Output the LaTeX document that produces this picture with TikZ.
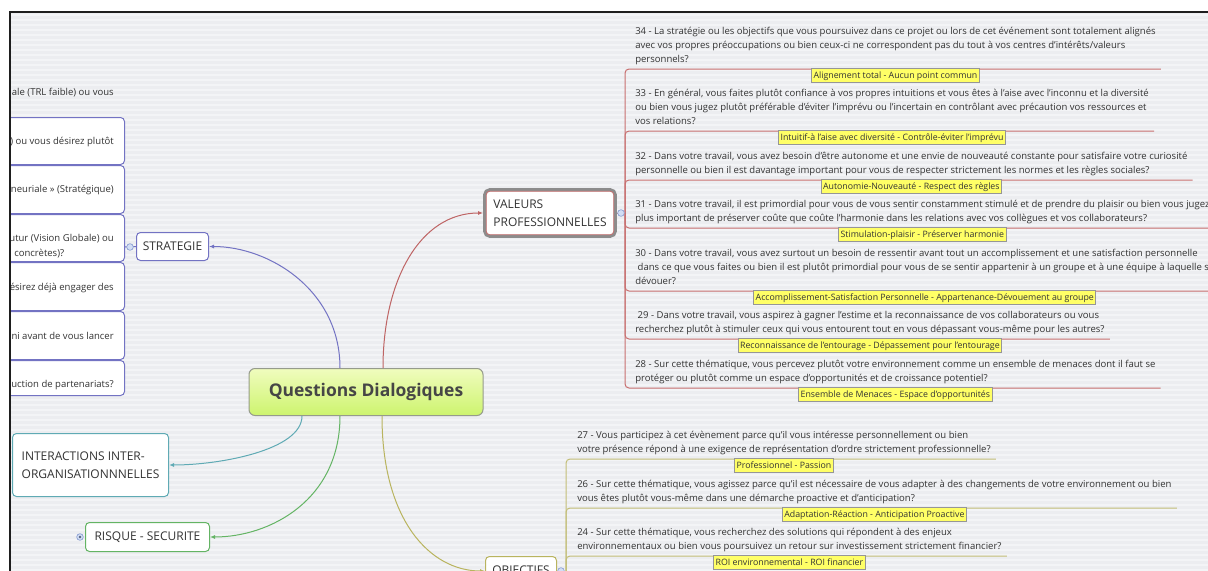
\documentclass[tikz,border=0pt]{standalone}
\usepackage{fontspec}
\setmainfont{Open Sans}
\usetikzlibrary{arrows.meta}
\definecolor{bgc}{RGB}{236,237,240}
\definecolor{stripec}{RGB}{243,244,246}
\definecolor{txt}{RGB}{51,51,51}
\definecolor{vred}{RGB}{200,112,112}
\definecolor{oliv}{RGB}{195,190,120}
\definecolor{cblue}{RGB}{115,115,195}
\definecolor{cred}{RGB}{190,100,100}
\definecolor{cteal}{RGB}{95,170,180}
\definecolor{cgreen}{RGB}{100,180,100}
\definecolor{colive}{RGB}{185,180,95}
\definecolor{lblfill}{RGB}{255,255,102}
\definecolor{lblbord}{RGB}{150,150,150}
\definecolor{rootT}{RGB}{240,252,190}
\definecolor{rootB}{RGB}{205,244,110}
\definecolor{rootbord}{RGB}{150,155,140}
\definecolor{roottxt}{RGB}{70,70,70}
\definecolor{vpgray}{RGB}{140,140,140}
\definecolor{cfill}{RGB}{210,222,245}
\definecolor{cbord}{RGB}{140,160,210}
\definecolor{framec}{RGB}{30,30,30}
\newcommand\mybody{\fontsize{7.15}{10.5}\selectfont}
\newcommand\mylbl{\fontsize{6.6}{9}\selectfont}
\newcommand\mybranch{\fontsize{9}{13.5}\selectfont}
\begin{document}
\begin{tikzpicture}[x=0.75pt,y=-0.75pt,
  topic/.style={font=\mybody, text=txt, align=left, inner xsep=3.75pt, inner ysep=1.35pt, anchor=south west},
  lbl/.style={font=\mylbl, text=txt, fill=lblfill, draw=lblbord, line width=0.75pt, inner xsep=1.5pt, inner ysep=1.2pt, text height=6.2pt, text depth=1.9pt, anchor=north},
  vline/.style={draw=vred, line width=0.75pt, rounded corners=3pt},
  oline/.style={draw=oliv, line width=0.75pt, rounded corners=3pt},
  branch/.style={fill=white, rounded corners=3pt, line width=0.75pt, font=\mybranch, text=txt, align=left},
  conn/.style={line width=0.75pt, -{Latex[length=3.75pt,width=3pt]}},
  collapse/.style={circle, draw=cbord, fill=cfill, inner sep=0pt, minimum size=5pt, line width=0.5pt},
  sbox/.style={draw=cblue, fill=white, rounded corners=3pt, line width=0.75pt, minimum width=180pt, anchor=east},
  frag/.style={font=\mybody, text=txt, inner sep=0pt},
  rootbox/.style={draw=rootbord, line width=0.75pt, rounded corners=4.5pt, top color=rootT, bottom color=rootB, minimum width=175.5pt, minimum height=35.25pt, font=\fontsize{13.1}{15}\selectfont\bfseries, text=roottxt}
]
\useasboundingbox (0,0) rectangle (1208,571);
\fill[white] (0,0) rectangle (1208,571);
\begin{scope}
\clip (10,12) rectangle (1208,571);
\fill[bgc] (10,12) rectangle (1208,571);
\foreach \yy in {15,20,...,570} {\draw[stripec, line width=1.5pt] (10,\yy) -- (1208,\yy);}

% ---------- central node
\node[rootbox] (root) at (366,392) {Questions Dialogiques};

% ---------- VALEURS PROFESSIONNELLES
\node[branch, draw=vpgray, line width=2.4pt, rounded corners=4pt, minimum width=98pt, minimum height=35pt] (vp) at (550,213) {VALEURS\\PROFESSIONNELLES};
\draw[vred, line width=0.6pt, rounded corners=2.5pt] ([xshift=2.4pt,yshift=-2.4pt]vp.north west) rectangle ([xshift=-2.4pt,yshift=2.4pt]vp.south east);
\coordinate (vspine) at (625,213);

\node[topic] (t34) at (630,69) {34 - La stratégie ou les objectifs que vous poursuivez dans ce projet ou lors de cet événement sont totalement alignés\\avec vos propres préoccupations ou bien ceux-ci ne correspondent pas du tout à vos centres d’intérêts/valeurs\\personnels?\strut};
\node[topic] (t33) at (630,131) {33 - En général, vous faites plutôt confiance à vos propres intuitions et vous êtes à l’aise avec l’inconnu et la diversité\\ou bien vous jugez plutôt préférable d’éviter l’imprévu ou l’incertain en contrôlant avec précaution vos ressources et\\vos relations?\strut};
\node[topic] (t32) at (630,180) {32 - Dans votre travail, vous avez besoin d’être autonome et une envie de nouveauté constante pour satisfaire votre curiosité\\personnelle ou bien il est davantage important pour vous de respecter strictement les normes et les règles sociales?\strut};
\node[topic] (t31) at (630,228) {31 - Dans votre travail, il est primordial pour vous de vous sentir constamment stimulé et de prendre du plaisir ou bien vous jugez\\plus important de préserver coûte que coûte l’harmonie dans les relations avec vos collègues et vos collaborateurs?\strut};
\node[topic] (t30) at (630,291) {30 - Dans votre travail, vous avez surtout un besoin de ressentir avant tout un accomplissement et une satisfaction personnelle\\\ dans ce que vous faites ou bien il est plutôt primordial pour vous de se sentir appartenir à un groupe et à une équipe à laquelle se\\dévouer?\strut};
\node[topic] (t29) at (630,339) {\ 29 - Dans votre travail, vous aspirez à gagner l’estime et la reconnaissance de vos collaborateurs ou vous\\recherchez plutôt à stimuler ceux qui vous entourent tout en vous dépassant vous-même pour les autres?\strut};
\node[topic] (t28) at (630,388) {28 - Sur cette thématique, vous percevez plutôt votre environnement comme un ensemble de menaces dont il faut se\\protéger ou plutôt comme un espace d’opportunités et de croissance potentiel?\strut};

\draw[vline] (vp.east) -- (vspine);
\foreach \t in {t34,t33,t32,t31,t30,t29,t28} {\draw[vline] (vspine) |- (\t.south east);}

\node[lbl] (l34) at ([yshift=0.75pt]t34.south) {Alignement total - Aucun point commun};
\node[lbl] (l33) at ([yshift=0.75pt]t33.south) {Intuitif-à l’aise avec diversité - Contrôle-éviter l’imprévu};
\node[lbl] (l32) at ([yshift=0.75pt]t32.south) {Autonomie-Nouveauté - Respect des règles};
\node[lbl] (l31) at ([yshift=0.75pt]t31.south) {Stimulation-plaisir - Préserver harmonie};
\node[lbl] (l30) at ([yshift=0.75pt]t30.south) {Accomplissement-Satisfaction Personnelle - Appartenance-Dévouement au groupe};
\node[lbl] (l29) at ([yshift=0.75pt]t29.south) {Reconnaissance de l’entourage - Dépassement pour l’entourage};
\node[lbl] (l28) at ([yshift=0.75pt]t28.south) {Ensemble de Menaces - Espace d’opportunités};
\node[collapse] (vpc) at (621,213) {};

% ---------- OBJECTIFS
\node[branch, draw=colive, minimum width=53.25pt, minimum height=21.75pt] (ob) at (521,571) {OBJECTIFS};
\coordinate (ospine) at (566,571);
\coordinate (obot) at (566,600);
\node[topic] (t27) at (572,459) {27 - Vous participez à cet évènement parce qu’il vous intéresse personnellement ou bien\\votre présence répond à une exigence de représentation d’ordre strictement professionnelle?\strut};
\node[topic] (t26) at (572,508) {26 - Sur cette thématique, vous agissez parce qu’il est nécessaire de vous adapter à des changements de votre environnement ou bien\\vous êtes plutôt vous-même dans une démarche proactive et d’anticipation?\strut};
\node[topic] (t24) at (572,556) {24 - Sur cette thématique, vous recherchez des solutions qui répondent à des enjeux\\environnementaux ou bien vous poursuivez un retour sur investissement strictement financier?\strut};
\draw[oline] (ob.east) -- (ospine);
\draw[oline] (ospine) -- (obot);
\foreach \t in {t27,t26,t24} {\draw[oline] (ospine) |- (\t.south east);}
\node[lbl] (l27) at ([yshift=0.75pt]t27.south) {Professionnel - Passion};
\node[lbl] (l26) at ([yshift=0.75pt]t26.south) {Adaptation-Réaction - Anticipation Proactive};
\node[lbl] (l24) at ([yshift=0.75pt]t24.south) {ROI environnemental - ROI financier};
\node[collapse] (obc) at (561,571) {};

% ---------- STRATEGIE
\node[branch, draw=cblue, minimum width=54pt, minimum height=21pt] (st) at (172.5,246.5) {STRATEGIE};
\node[sbox, minimum height=35.25pt] (s2) at (125,141) {};
\node[sbox, minimum height=36pt] (s3) at (125,189.5) {};
\node[sbox, minimum height=35.25pt] (s4) at (125,238) {};
\node[sbox, minimum height=36pt] (s5) at (125,286.5) {};
\node[sbox, minimum height=36pt] (s6) at (125,335.5) {};
\node[sbox, minimum height=26.25pt] (s7) at (125,378) {};
\node[frag, anchor=base east] (f1) at (114,95.5) {ale (TRL faible) ou vous};
\node[frag, anchor=base east] (f2) at (114,144.5) {) ou vous désirez plutôt};
\node[frag, anchor=base east] (f3) at (114,192.5) {neuriale » (Stratégique)};
\node[frag, anchor=base east] (f4) at (114,241.5) {utur (Vision Globale) ou};
\node[frag, anchor=base west] (f4b) at (14,256.5) {concrètes)?};
\node[frag, anchor=base east] (f5) at (114,290.5) {ésirez déjà engager des};
\node[frag, anchor=base east] (f6) at (114,339.5) {ni avant de vous lancer};
\node[frag, anchor=base east] (f7) at (114,387.5) {ruction de partenariats?};
\coordinate (sspine) at (125,247);
\draw[cblue, line width=0.75pt] (st.west) -- (sspine);
\node[collapse] (stc) at (130,247) {};

% ---------- INTERACTIONS
\node[branch, draw=cteal, minimum width=117pt, minimum height=47.25pt] (it) at (90.5,465) {INTERACTIONS INTER-\\ORGANISATIONNNELLES};

% ---------- RISQUE
\node[branch, draw=cgreen, minimum width=93pt, minimum height=21.75pt, align=center] (rs) at (147.5,537) {RISQUE - SECURITE};
\node[collapse] (rsc) at (80,537) {};
\fill[cbord!60!black] (rsc.center) circle (1pt);

% ---------- connectors from the central node
\draw[conn, cblue] ([xshift=-19.5pt]root.north) .. controls +(0,-78) and +(60,0) .. (st.east);
\draw[conn, cred] ([xshift=12.75pt]root.north) .. controls +(0,-88) and +(-63,0) .. (vp.west);
\draw[conn, cteal] ([xshift=-48pt]root.south) .. controls +(0,34) and +(51,0) .. (it.east);
\draw[conn, cgreen] ([xshift=-19.5pt]root.south) .. controls +(0,84) and +(60,0) .. (rs.east);
\draw[conn, colive] ([xshift=12pt]root.south) .. controls +(0,104) and +(-55,0) .. (ob.west);
\end{scope}
\draw[framec, line width=1.2pt] (10,571) -- (10,12) -- (1208,12);
\end{tikzpicture}
\end{document}
